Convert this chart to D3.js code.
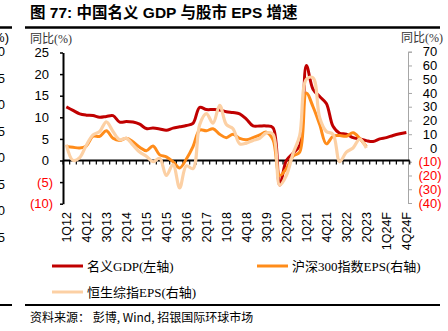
<!DOCTYPE html>
<html>
<head>
<meta charset="utf-8">
<script src="https://cdn.jsdelivr.net/npm/d3@7"></script>
<style>
  body { margin: 0; background: #fff; }
  svg { display: block; }
</style>
</head>
<body>
<div id="chart"></div>
<script>
// quarters on the x axis
var quarters = ["1Q12","2Q12","3Q12","4Q12","1Q13","2Q13","3Q13","4Q13",
  "1Q14","2Q14","3Q14","4Q14","1Q15","2Q15","3Q15","4Q15",
  "1Q16","2Q16","3Q16","4Q16","1Q17","2Q17","3Q17","4Q17",
  "1Q18","2Q18","3Q18","4Q18","1Q19","2Q19","3Q19","4Q19",
  "1Q20","2Q20","3Q20","4Q20","1Q21","2Q21","3Q21","4Q21",
  "1Q22","2Q22","3Q22","4Q22","1Q23","2Q23","3Q23","4Q23",
  "1Q24F","2Q24F","3Q24F","4Q24F"];

// labels actually printed (every third quarter)
var xTickLabels = ["1Q12","4Q12","3Q13","2Q14","1Q15","4Q15","3Q16","2Q17","1Q18",
  "4Q18","3Q19","2Q20","1Q21","4Q21","3Q22","2Q23","1Q24F","4Q24F"];

// 名义GDP yoy %, left axis
var gdp = [12.4, 11.6, 10.8, 10.5, 10.4, 10.0, 10.2, 10.4,
  8.9, 9.0, 8.9, 8.4, 7.4, 7.5, 7.3, 7.0,
  7.5, 7.8, 8.1, 8.6, 12.3, 11.8, 11.8, 11.7,
  11.3, 11.1, 10.8, 9.6, 8.0, 8.0, 8.0, 7.6,
  -5.7, 0.0, 1.7, 3.5, 22.0, 16.5, 14.8, 13.2,
  7.9, 6.3, 6.1, 5.3, 5.0, 4.6, 4.4, 5.0,
  5.3, 5.8, 6.2, 6.5];

// 沪深300指数EPS yoy %, right axis
var hs300 = [1.0, 0.5, 0.0, 1.5, 8.5, 8.5, 12.5, 7.0,
  5.5, 7.0, 4.5, 0.5, -2.0, 1.5, -5.0, -6.5,
  -10.0, -14.5, -8.0, 1.0, 13.0, 12.5, 14.0, 10.0,
  7.5, 10.0, 7.0, 6.0, 7.5, 9.5, 11.5, 6.0,
  -20.0, -15.0, -6.0, -3.0, 40.0, 30.0, 17.0, 3.0,
  8.5, 9.0, 8.5, 11.0, 7.0, 1.0, null, null,
  null, null, null, null];

// 恒生综指EPS yoy %, right axis
var hsci = [2.5, -9.0, -7.0, 2.0, 9.5, 12.0, 19.0, 12.0,
  6.0, 7.0, 2.0, -3.0, -6.0, -10.0, -7.5, -20.0,
  -12.0, -29.0, -13.0, -15.0, 17.0, 25.0, 18.0, 31.0,
  17.0, 14.0, 3.0, 3.5, 5.5, 7.0, 11.0, 10.0,
  -27.0, -20.0, -4.0, 9.0, 50.0, 51.0, 22.0, 12.0,
  10.0, -10.0, -3.0, 0.0, 6.5, 0.0, null, null,
  null, null, null, null];

var leftTicks = [25, 20, 15, 10, 5, 0, -5, -10];
var rightTicks = [70, 60, 50, 40, 30, 20, 10, 0, -10, -20, -30, -40];

var width = 448, height = 331;
var fmt = function (d) { return d < 0 ? "(" + Math.abs(d) + ")" : String(d); };

var svg = d3.select("#chart").append("svg")
  .attr("width", width)
  .attr("height", height);

var x = d3.scaleBand().domain(quarters).range([63, 409.7]);
var yL = d3.scaleLinear().domain([-10, 25]).range([203.7, 52.5]);
var yR = d3.scaleLinear().domain([-40, 70]).range([203, 51.7]);

// title + rules
svg.append("text")
  .attr("x", 30).attr("y", 18)
  .style("font-family", "Arial, 'Liberation Sans', 'Noto Sans CJK SC'")
  .style("font-weight", "bold")
  .style("font-size", "15.5px")
  .text("图 77: 中国名义 GDP 与股市 EPS 增速");

svg.append("line").attr("x1", 25).attr("x2", 440).attr("y1", 27.5).attr("y2", 27.5)
  .attr("stroke", "#000").attr("stroke-width", 2.5);
svg.append("line").attr("x1", 0).attr("x2", 12).attr("y1", 27.5).attr("y2", 27.5)
  .attr("stroke", "#000").attr("stroke-width", 2.5);
svg.append("line").attr("x1", 25).attr("x2", 440).attr("y1", 305).attr("y2", 305)
  .attr("stroke", "#000").attr("stroke-width", 2);
svg.append("line").attr("x1", 0).attr("x2", 12).attr("y1", 305).attr("y2", 305)
  .attr("stroke", "#000").attr("stroke-width", 2);

// leftover of the neighbouring chart at the left edge
var edge = svg.append("g")
  .style("font-family", "Arial, 'Liberation Sans'")
  .style("font-size", "13px");
edge.append("text").attr("x", 9).attr("y", 42).attr("text-anchor", "end").text("(%)");
[30, 25, 20, 15, 10, 5, 0, 5].forEach(function (d, i) {
  edge.append("text").attr("x", 5).attr("y", 56 + i * 26.5)
    .attr("text-anchor", "end").text(d);
});

// unit labels
svg.append("text").attr("x", 30).attr("y", 43)
  .style("font-family", "'Liberation Serif', 'Noto Sans CJK SC'")
  .style("font-size", "12px").attr("fill", "#333")
  .text("同比(%)");
svg.append("text").attr("x", 443).attr("y", 42).attr("text-anchor", "end")
  .style("font-family", "'Liberation Serif', 'Noto Sans CJK SC'")
  .style("font-size", "12px").attr("fill", "#333")
  .text("同比(%)");

// left axis
var gL = svg.append("g")
  .attr("transform", "translate(63,0)")
  .call(d3.axisLeft(yL).tickValues(leftTicks).tickSize(3).tickSizeOuter(0).tickPadding(11).tickFormat(fmt));
gL.select(".domain").attr("stroke", "#000").attr("stroke-width", 2);
gL.selectAll(".tick line").attr("stroke", "#000").attr("stroke-width", 1.5);
gL.selectAll(".tick text")
  .style("font-family", "Arial, 'Liberation Sans'")
  .style("font-size", "13px")
  .attr("fill", function (d) { return d < 0 ? "#ff0000" : "#000"; })
  .attr("dx", function (d) { return d < 0 ? 4 : 0; });

// right axis, labels right-aligned with a ")"-wide gap after positives
var gR = svg.append("g")
  .attr("transform", "translate(408,0)")
  .call(d3.axisRight(yR).tickValues(rightTicks).tickSize(4).tickSizeOuter(4).tickFormat(fmt));
gR.select(".domain").attr("stroke", "#a6a6a6");
gR.selectAll(".tick line").attr("stroke", "#a6a6a6");
gR.selectAll(".tick text")
  .style("font-family", "Arial, 'Liberation Sans'")
  .style("font-size", "13px")
  .attr("text-anchor", "end")
  .attr("x", 33.5)
  .attr("dx", function (d) { return d < 0 ? 0 : -4.3; })
  .attr("fill", function (d) { return d < 0 ? "#ff0000" : "#000"; });

// x axis on the left-axis zero
var boundaries = d3.range(quarters.length + 1).map(function (k) { return x.range()[0] + k * x.step(); });
var gX = svg.append("g");
gX.selectAll("line.qt").data(boundaries).enter().append("line")
  .attr("x1", function (d) { return d; }).attr("x2", function (d) { return d; })
  .attr("y1", yL(0)).attr("y2", yL(0) + 4)
  .attr("stroke", "#000").attr("stroke-width", 1.2);
gX.append("line")
  .attr("x1", x.range()[0]).attr("x2", x.range()[1])
  .attr("y1", yL(0)).attr("y2", yL(0))
  .attr("stroke", "#000").attr("stroke-width", 2);

svg.append("g").selectAll("text").data(xTickLabels).enter().append("text")
  .attr("transform", function (d) {
    return "translate(" + (x(d) + x.bandwidth() / 2 + 4.5) + ",212) rotate(-90)";
  })
  .attr("text-anchor", "end")
  .style("font-family", "Arial, 'Liberation Sans'")
  .style("font-size", "12.5px")
  .text(function (d) { return d; });

// lines
var series = [
  { name: "名义GDP(左轴)", values: gdp, y: yL, color: "#c00000", w: 3 },
  { name: "沪深300指数EPS(右轴)", values: hs300, y: yR, color: "#ff8c1a", w: 3 },
  { name: "恒生综指EPS(右轴)", values: hsci, y: yR, color: "#fcd0a4", w: 3.2 }
];

series.forEach(function (s) {
  var line = d3.line()
    .defined(function (d) { return d != null; })
    .x(function (d, i) { return x(quarters[i]) + x.bandwidth() / 2; })
    .y(function (d) { return s.y(d); })
    .curve(d3.curveCatmullRom.alpha(0.5));
  svg.append("path")
    .datum(s.values)
    .attr("d", line)
    .attr("fill", "none")
    .attr("stroke", s.color)
    .attr("stroke-width", s.w)
    .attr("stroke-linejoin", "round");
});

// legend
var legendPos = [[52, 266], [257, 266], [52, 292]];
series.forEach(function (s, i) {
  var p = legendPos[i];
  svg.append("line")
    .attr("x1", p[0]).attr("x2", p[0] + 31)
    .attr("y1", p[1]).attr("y2", p[1])
    .attr("stroke", s.color).attr("stroke-width", 3);
  svg.append("text")
    .attr("x", p[0] + 35).attr("y", p[1] + 4.5)
    .style("font-family", "'Liberation Serif', 'Noto Sans CJK SC'")
    .style("font-size", "13px")
    .text(s.name);
});

// source
svg.append("text").attr("x", 30).attr("y", 322)
  .style("font-family", "'Noto Sans CJK SC', Arial")
  .style("font-size", "12px")
  .text("资料来源： 彭博, Wind, 招银国际环球市场");
</script>
</body>
</html>
